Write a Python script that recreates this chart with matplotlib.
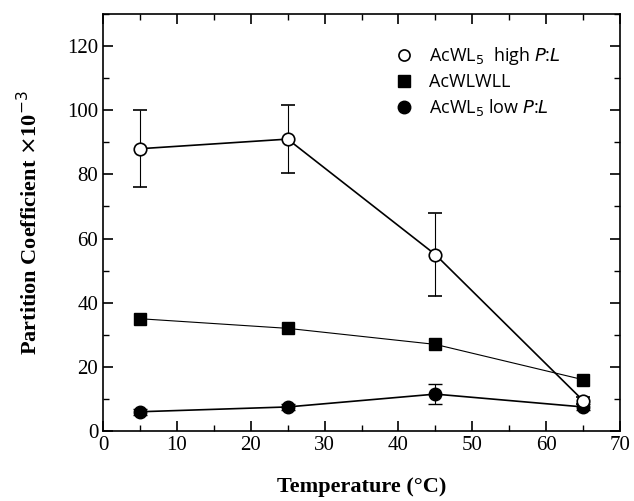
import matplotlib
matplotlib.use("Agg")
import matplotlib.pyplot as plt
from matplotlib.lines import Line2D

temp = [5, 25, 45, 65]

high_pl = [88, 91, 55, 9.5]
high_err = [12, 10.5, 13, 1.0]

wlwll = [35, 32, 27, 16]

low_pl = [6, 7.5, 11.5, 7.5]
low_err = [1.0, 0.8, 3.0, 0.8]

labels = [r"AcWL$_5$  high $P$:$L$", "AcWLWLL", r"AcWL$_5$ low $P$:$L$"]

plt.rcParams["font.family"] = "Liberation Serif"

fig = plt.figure(figsize=(6.34, 5.01), dpi=100)
ax = fig.add_axes([103/634, 70/501, 517/634, 417/501])

ax.errorbar(temp, high_pl, yerr=high_err, fmt="o-", color="black", mfc="white",
            mec="black", ms=9, mew=1.2, lw=1.2, capsize=5, elinewidth=0.8,
            zorder=3)
ax.plot(temp, wlwll, "s-", color="black", ms=8, lw=0.8, zorder=2)
ax.errorbar(temp, low_pl, yerr=low_err, fmt="o-", color="black", ms=9,
            lw=1.2, capsize=5, elinewidth=0.8, zorder=2)

ax.set_xlim(0, 70)
ax.set_ylim(0, 130)
ax.set_xticks(range(0, 71, 10))
ax.set_xticks(range(5, 70, 10), minor=True)
ax.set_yticks(range(0, 121, 20))
ax.set_yticks(range(10, 131, 20), minor=True)
ax.tick_params(which="both", direction="in", top=True, right=True, labelsize=15)
ax.tick_params(which="major", length=7, width=1.2)
ax.tick_params(which="minor", length=4, width=1.0)
for s in ax.spines.values():
    s.set_linewidth(1.2)

ax.set_xlabel("Temperature (°C)", fontsize=16, fontweight="bold", labelpad=16)
ax.set_ylabel(r"Partition Coefficient $\times$10$^{-3}$", fontsize=16,
              fontweight="bold", labelpad=18)

handles = [
    Line2D([], [], ls="none", marker="o", ms=8, mfc="white", mec="black", mew=1.2),
    Line2D([], [], ls="none", marker="s", ms=8, color="black"),
    Line2D([], [], ls="none", marker="o", ms=9, color="black"),
]
ax.legend(handles, labels, loc="upper left", bbox_to_anchor=(0.525, 0.965),
          frameon=False, prop={"family": "Open Sans", "size": 13},
          handletextpad=0.6, labelspacing=0.35, handlelength=1.5)

plt.savefig("out.png", dpi=100)
